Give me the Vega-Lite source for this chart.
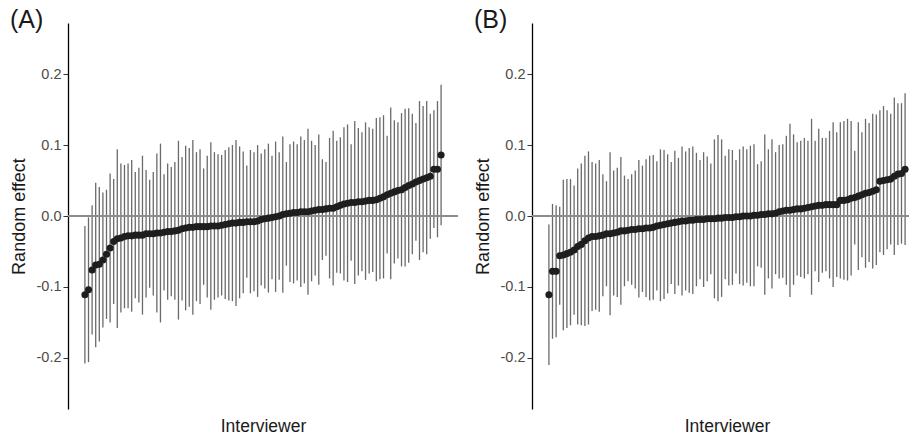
{
  "$schema": "https://vega.github.io/schema/vega-lite/v6.json",
  "padding": {"left": 10, "top": 8, "right": 0, "bottom": 0},
  "spacing": 15,
  "config": {
    "view": {"stroke": null},
    "font": "Liberation Sans"
  },
  "datasets": {
    "a": [
      {"i":1,"e":-0.111,"lo":-0.208,"hi":-0.014},{"i":2,"e":-0.104,"lo":-0.206,"hi":-0.002},{"i":3,"e":-0.076,"lo":-0.167,"hi":0.015},{"i":4,"e":-0.069,"lo":-0.185,"hi":0.047},{"i":5,"e":-0.068,"lo":-0.177,"hi":0.041},
      {"i":6,"e":-0.062,"lo":-0.157,"hi":0.033},{"i":7,"e":-0.054,"lo":-0.145,"hi":0.037},{"i":8,"e":-0.045,"lo":-0.150,"hi":0.060},{"i":9,"e":-0.036,"lo":-0.124,"hi":0.052},{"i":10,"e":-0.032,"lo":-0.158,"hi":0.094},
      {"i":11,"e":-0.031,"lo":-0.136,"hi":0.074},{"i":12,"e":-0.029,"lo":-0.130,"hi":0.072},{"i":13,"e":-0.028,"lo":-0.130,"hi":0.074},{"i":14,"e":-0.028,"lo":-0.135,"hi":0.079},{"i":15,"e":-0.027,"lo":-0.116,"hi":0.062},
      {"i":16,"e":-0.027,"lo":-0.122,"hi":0.068},{"i":17,"e":-0.027,"lo":-0.139,"hi":0.085},{"i":18,"e":-0.025,"lo":-0.115,"hi":0.065},{"i":19,"e":-0.025,"lo":-0.101,"hi":0.051},{"i":20,"e":-0.025,"lo":-0.112,"hi":0.062},
      {"i":21,"e":-0.024,"lo":-0.136,"hi":0.088},{"i":22,"e":-0.024,"lo":-0.150,"hi":0.102},{"i":23,"e":-0.023,"lo":-0.105,"hi":0.059},{"i":24,"e":-0.022,"lo":-0.118,"hi":0.074},{"i":25,"e":-0.022,"lo":-0.113,"hi":0.069},
      {"i":26,"e":-0.021,"lo":-0.118,"hi":0.076},{"i":27,"e":-0.020,"lo":-0.146,"hi":0.106},{"i":28,"e":-0.018,"lo":-0.119,"hi":0.083},{"i":29,"e":-0.017,"lo":-0.133,"hi":0.099},{"i":30,"e":-0.016,"lo":-0.128,"hi":0.096},
      {"i":31,"e":-0.016,"lo":-0.139,"hi":0.107},{"i":32,"e":-0.015,"lo":-0.120,"hi":0.090},{"i":33,"e":-0.015,"lo":-0.124,"hi":0.094},{"i":34,"e":-0.015,"lo":-0.097,"hi":0.067},{"i":35,"e":-0.015,"lo":-0.115,"hi":0.085},
      {"i":36,"e":-0.014,"lo":-0.132,"hi":0.104},{"i":37,"e":-0.014,"lo":-0.118,"hi":0.090},{"i":38,"e":-0.014,"lo":-0.115,"hi":0.087},{"i":39,"e":-0.013,"lo":-0.112,"hi":0.086},{"i":40,"e":-0.012,"lo":-0.117,"hi":0.093},
      {"i":41,"e":-0.011,"lo":-0.119,"hi":0.097},{"i":42,"e":-0.010,"lo":-0.120,"hi":0.100},{"i":43,"e":-0.010,"lo":-0.127,"hi":0.107},{"i":44,"e":-0.009,"lo":-0.116,"hi":0.098},{"i":45,"e":-0.009,"lo":-0.109,"hi":0.091},
      {"i":46,"e":-0.008,"lo":-0.087,"hi":0.071},{"i":47,"e":-0.008,"lo":-0.109,"hi":0.093},{"i":48,"e":-0.008,"lo":-0.106,"hi":0.090},{"i":49,"e":-0.007,"lo":-0.114,"hi":0.100},{"i":50,"e":-0.005,"lo":-0.098,"hi":0.088},
      {"i":51,"e":-0.004,"lo":-0.102,"hi":0.094},{"i":52,"e":-0.003,"lo":-0.108,"hi":0.102},{"i":53,"e":-0.002,"lo":-0.089,"hi":0.085},{"i":54,"e":-0.001,"lo":-0.107,"hi":0.105},{"i":55,"e":0.000,"lo":-0.090,"hi":0.090},
      {"i":56,"e":0.002,"lo":-0.108,"hi":0.112},{"i":57,"e":0.003,"lo":-0.070,"hi":0.076},{"i":58,"e":0.004,"lo":-0.093,"hi":0.101},{"i":59,"e":0.005,"lo":-0.095,"hi":0.105},{"i":60,"e":0.005,"lo":-0.091,"hi":0.101},
      {"i":61,"e":0.006,"lo":-0.100,"hi":0.112},{"i":62,"e":0.006,"lo":-0.095,"hi":0.107},{"i":63,"e":0.006,"lo":-0.111,"hi":0.123},{"i":64,"e":0.007,"lo":-0.092,"hi":0.106},{"i":65,"e":0.008,"lo":-0.084,"hi":0.100},
      {"i":66,"e":0.009,"lo":-0.097,"hi":0.115},{"i":67,"e":0.009,"lo":-0.062,"hi":0.080},{"i":68,"e":0.010,"lo":-0.056,"hi":0.076},{"i":69,"e":0.011,"lo":-0.088,"hi":0.110},{"i":70,"e":0.011,"lo":-0.098,"hi":0.120},
      {"i":71,"e":0.013,"lo":-0.080,"hi":0.106},{"i":72,"e":0.015,"lo":-0.081,"hi":0.111},{"i":73,"e":0.017,"lo":-0.091,"hi":0.125},{"i":74,"e":0.018,"lo":-0.093,"hi":0.129},{"i":75,"e":0.019,"lo":-0.063,"hi":0.101},
      {"i":76,"e":0.019,"lo":-0.096,"hi":0.134},{"i":77,"e":0.020,"lo":-0.084,"hi":0.124},{"i":78,"e":0.020,"lo":-0.078,"hi":0.118},{"i":79,"e":0.021,"lo":-0.090,"hi":0.132},{"i":80,"e":0.022,"lo":-0.081,"hi":0.125},
      {"i":81,"e":0.022,"lo":-0.079,"hi":0.123},{"i":82,"e":0.023,"lo":-0.092,"hi":0.138},{"i":83,"e":0.025,"lo":-0.089,"hi":0.139},{"i":84,"e":0.027,"lo":-0.088,"hi":0.142},{"i":85,"e":0.030,"lo":-0.053,"hi":0.113},
      {"i":86,"e":0.032,"lo":-0.089,"hi":0.153},{"i":87,"e":0.034,"lo":-0.067,"hi":0.135},{"i":88,"e":0.036,"lo":-0.060,"hi":0.132},{"i":89,"e":0.037,"lo":-0.071,"hi":0.145},{"i":90,"e":0.040,"lo":-0.071,"hi":0.151},
      {"i":91,"e":0.043,"lo":-0.066,"hi":0.152},{"i":92,"e":0.045,"lo":-0.054,"hi":0.144},{"i":93,"e":0.048,"lo":-0.035,"hi":0.131},{"i":94,"e":0.050,"lo":-0.062,"hi":0.162},{"i":95,"e":0.052,"lo":-0.051,"hi":0.155},
      {"i":96,"e":0.054,"lo":-0.054,"hi":0.162},{"i":97,"e":0.056,"lo":-0.032,"hi":0.144},{"i":98,"e":0.066,"lo":-0.017,"hi":0.149},{"i":99,"e":0.066,"lo":-0.030,"hi":0.162},{"i":100,"e":0.086,"lo":-0.013,"hi":0.185}
    ],
    "b": [
      {"i":1,"e":-0.111,"lo":-0.210,"hi":-0.012},{"i":2,"e":-0.078,"lo":-0.173,"hi":0.017},{"i":3,"e":-0.078,"lo":-0.171,"hi":0.015},{"i":4,"e":-0.056,"lo":-0.125,"hi":0.013},{"i":5,"e":-0.055,"lo":-0.161,"hi":0.051},
      {"i":6,"e":-0.053,"lo":-0.158,"hi":0.052},{"i":7,"e":-0.051,"lo":-0.154,"hi":0.052},{"i":8,"e":-0.048,"lo":-0.139,"hi":0.043},{"i":9,"e":-0.043,"lo":-0.153,"hi":0.067},{"i":10,"e":-0.040,"lo":-0.154,"hi":0.074},
      {"i":11,"e":-0.035,"lo":-0.155,"hi":0.085},{"i":12,"e":-0.031,"lo":-0.153,"hi":0.091},{"i":13,"e":-0.029,"lo":-0.134,"hi":0.076},{"i":14,"e":-0.029,"lo":-0.132,"hi":0.074},{"i":15,"e":-0.028,"lo":-0.135,"hi":0.079},
      {"i":16,"e":-0.027,"lo":-0.113,"hi":0.059},{"i":17,"e":-0.025,"lo":-0.099,"hi":0.049},{"i":18,"e":-0.025,"lo":-0.140,"hi":0.090},{"i":19,"e":-0.024,"lo":-0.112,"hi":0.064},{"i":20,"e":-0.023,"lo":-0.114,"hi":0.068},
      {"i":21,"e":-0.021,"lo":-0.125,"hi":0.083},{"i":22,"e":-0.021,"lo":-0.099,"hi":0.057},{"i":23,"e":-0.020,"lo":-0.092,"hi":0.052},{"i":24,"e":-0.019,"lo":-0.097,"hi":0.059},{"i":25,"e":-0.019,"lo":-0.102,"hi":0.064},
      {"i":26,"e":-0.018,"lo":-0.115,"hi":0.079},{"i":27,"e":-0.018,"lo":-0.107,"hi":0.071},{"i":28,"e":-0.017,"lo":-0.114,"hi":0.080},{"i":29,"e":-0.017,"lo":-0.119,"hi":0.085},{"i":30,"e":-0.016,"lo":-0.118,"hi":0.086},
      {"i":31,"e":-0.014,"lo":-0.105,"hi":0.077},{"i":32,"e":-0.013,"lo":-0.120,"hi":0.094},{"i":33,"e":-0.012,"lo":-0.117,"hi":0.093},{"i":34,"e":-0.011,"lo":-0.109,"hi":0.087},{"i":35,"e":-0.010,"lo":-0.096,"hi":0.076},
      {"i":36,"e":-0.009,"lo":-0.110,"hi":0.092},{"i":37,"e":-0.008,"lo":-0.098,"hi":0.082},{"i":38,"e":-0.007,"lo":-0.112,"hi":0.098},{"i":39,"e":-0.007,"lo":-0.105,"hi":0.091},{"i":40,"e":-0.006,"lo":-0.108,"hi":0.096},
      {"i":41,"e":-0.006,"lo":-0.110,"hi":0.098},{"i":42,"e":-0.005,"lo":-0.099,"hi":0.089},{"i":43,"e":-0.005,"lo":-0.089,"hi":0.079},{"i":44,"e":-0.005,"lo":-0.100,"hi":0.090},{"i":45,"e":-0.004,"lo":-0.092,"hi":0.084},
      {"i":46,"e":-0.004,"lo":-0.082,"hi":0.074},{"i":47,"e":-0.004,"lo":-0.116,"hi":0.108},{"i":48,"e":-0.003,"lo":-0.120,"hi":0.114},{"i":49,"e":-0.003,"lo":-0.114,"hi":0.108},{"i":50,"e":-0.002,"lo":-0.089,"hi":0.085},
      {"i":51,"e":-0.002,"lo":-0.098,"hi":0.094},{"i":52,"e":-0.002,"lo":-0.097,"hi":0.093},{"i":53,"e":-0.001,"lo":-0.081,"hi":0.079},{"i":54,"e":-0.001,"lo":-0.096,"hi":0.094},{"i":55,"e":0.000,"lo":-0.098,"hi":0.098},
      {"i":56,"e":0.000,"lo":-0.094,"hi":0.094},{"i":57,"e":0.000,"lo":-0.099,"hi":0.099},{"i":58,"e":0.001,"lo":-0.099,"hi":0.101},{"i":59,"e":0.001,"lo":-0.071,"hi":0.073},{"i":60,"e":0.002,"lo":-0.073,"hi":0.077},
      {"i":61,"e":0.002,"lo":-0.111,"hi":0.115},{"i":62,"e":0.003,"lo":-0.088,"hi":0.094},{"i":63,"e":0.003,"lo":-0.102,"hi":0.108},{"i":64,"e":0.004,"lo":-0.082,"hi":0.090},{"i":65,"e":0.006,"lo":-0.088,"hi":0.100},
      {"i":66,"e":0.007,"lo":-0.087,"hi":0.101},{"i":67,"e":0.008,"lo":-0.097,"hi":0.113},{"i":68,"e":0.008,"lo":-0.114,"hi":0.130},{"i":69,"e":0.009,"lo":-0.097,"hi":0.115},{"i":70,"e":0.010,"lo":-0.084,"hi":0.104},
      {"i":71,"e":0.010,"lo":-0.086,"hi":0.106},{"i":72,"e":0.011,"lo":-0.088,"hi":0.110},{"i":73,"e":0.012,"lo":-0.082,"hi":0.106},{"i":74,"e":0.013,"lo":-0.111,"hi":0.137},{"i":75,"e":0.014,"lo":-0.078,"hi":0.106},
      {"i":76,"e":0.015,"lo":-0.093,"hi":0.123},{"i":77,"e":0.015,"lo":-0.080,"hi":0.110},{"i":78,"e":0.016,"lo":-0.078,"hi":0.110},{"i":79,"e":0.016,"lo":-0.088,"hi":0.120},{"i":80,"e":0.016,"lo":-0.100,"hi":0.132},
      {"i":81,"e":0.016,"lo":-0.086,"hi":0.118},{"i":82,"e":0.022,"lo":-0.088,"hi":0.132},{"i":83,"e":0.022,"lo":-0.090,"hi":0.134},{"i":84,"e":0.023,"lo":-0.091,"hi":0.137},{"i":85,"e":0.025,"lo":-0.084,"hi":0.134},
      {"i":86,"e":0.026,"lo":-0.040,"hi":0.092},{"i":87,"e":0.028,"lo":-0.076,"hi":0.132},{"i":88,"e":0.030,"lo":-0.058,"hi":0.118},{"i":89,"e":0.032,"lo":-0.073,"hi":0.137},{"i":90,"e":0.033,"lo":-0.065,"hi":0.131},
      {"i":91,"e":0.035,"lo":-0.074,"hi":0.144},{"i":92,"e":0.037,"lo":-0.069,"hi":0.143},{"i":93,"e":0.049,"lo":-0.051,"hi":0.149},{"i":94,"e":0.050,"lo":-0.055,"hi":0.155},{"i":95,"e":0.051,"lo":-0.047,"hi":0.149},
      {"i":96,"e":0.052,"lo":-0.040,"hi":0.144},{"i":97,"e":0.056,"lo":-0.055,"hi":0.167},{"i":98,"e":0.059,"lo":-0.041,"hi":0.159},{"i":99,"e":0.060,"lo":-0.039,"hi":0.159},{"i":100,"e":0.066,"lo":-0.041,"hi":0.173}
    ]
  },
  "hconcat": [
    {
      "title": {"text": "(A)", "anchor": "start", "frame": "bounds", "fontSize": 25, "fontWeight": "normal", "color": "#1a1a1a", "offset": 0, "dy": 10},
      "data": {"name": "a"},
      "width": 390, "height": 386,
      "layer": [
        {"mark": {"type": "rule", "color": "#6a6a6a", "strokeWidth": 1.3},
         "encoding": {
           "x": {"field": "i", "type": "quantitative", "scale": {"domain": [-3.7, 104.7], "nice": false, "zero": false},
                 "axis": {"title": "Interviewer", "domain": false, "ticks": false, "labels": false, "grid": false, "titleFontSize": 17.5, "titleFontWeight": "normal", "titleColor": "#1a1a1a", "titlePadding": 8}},
           "y": {"field": "lo", "type": "quantitative", "scale": {"domain": [-0.272, 0.272], "nice": false, "zero": false},
                 "axis": {"title": "Random effect", "values": [-0.2, -0.1, 0, 0.1, 0.2],
                          "labelExpr": "datum.value < 0 ? '-' + format(-datum.value, '.1f') : format(datum.value, '.1f')",
                          "labelFontSize": 14.5, "labelColor": "#4d4d4d", "labelPadding": 2,
                          "tickSize": 5, "tickColor": "#333333", "tickWidth": 1,
                          "domainColor": "#000000", "domainWidth": 1.3, "grid": false,
                          "titleFontSize": 18, "titleFontWeight": "normal", "titleColor": "#1a1a1a", "titlePadding": 8}},
           "y2": {"field": "hi"}}},
        {"mark": {"type": "rule", "color": "#8c8c8c", "strokeWidth": 2}, "encoding": {"y": {"datum": 0}}},
        {"mark": {"type": "circle", "color": "#1e1e1e", "size": 50, "opacity": 1},
         "encoding": {"x": {"field": "i", "type": "quantitative"}, "y": {"field": "e", "type": "quantitative"}}}
      ]
    },
    {
      "title": {"text": "(B)", "anchor": "start", "frame": "bounds", "fontSize": 25, "fontWeight": "normal", "color": "#1a1a1a", "offset": 0, "dy": 10},
      "data": {"name": "b"},
      "width": 390, "height": 386,
      "layer": [
        {"mark": {"type": "rule", "color": "#6a6a6a", "strokeWidth": 1.3},
         "encoding": {
           "x": {"field": "i", "type": "quantitative", "scale": {"domain": [-3.7, 104.7], "nice": false, "zero": false},
                 "axis": {"title": "Interviewer", "domain": false, "ticks": false, "labels": false, "grid": false, "titleFontSize": 17.5, "titleFontWeight": "normal", "titleColor": "#1a1a1a", "titlePadding": 8}},
           "y": {"field": "lo", "type": "quantitative", "scale": {"domain": [-0.272, 0.272], "nice": false, "zero": false},
                 "axis": {"title": "Random effect", "values": [-0.2, -0.1, 0, 0.1, 0.2],
                          "labelExpr": "datum.value < 0 ? '-' + format(-datum.value, '.1f') : format(datum.value, '.1f')",
                          "labelFontSize": 14.5, "labelColor": "#4d4d4d", "labelPadding": 2,
                          "tickSize": 5, "tickColor": "#333333", "tickWidth": 1,
                          "domainColor": "#000000", "domainWidth": 1.3, "grid": false,
                          "titleFontSize": 18, "titleFontWeight": "normal", "titleColor": "#1a1a1a", "titlePadding": 8}},
           "y2": {"field": "hi"}}},
        {"mark": {"type": "rule", "color": "#8c8c8c", "strokeWidth": 2}, "encoding": {"y": {"datum": 0}}},
        {"mark": {"type": "circle", "color": "#1e1e1e", "size": 50, "opacity": 1},
         "encoding": {"x": {"field": "i", "type": "quantitative"}, "y": {"field": "e", "type": "quantitative"}}}
      ]
    }
  ]
}
